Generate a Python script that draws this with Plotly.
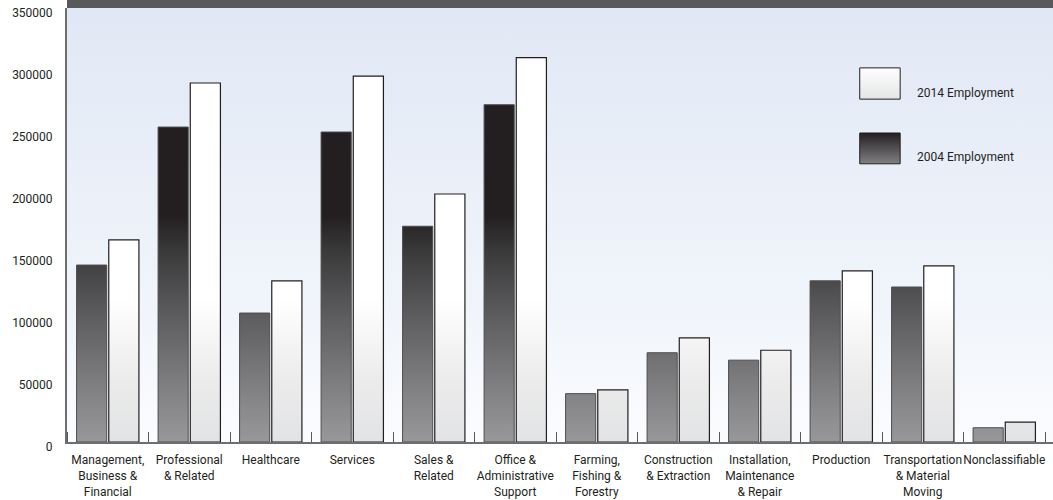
import plotly.graph_objects as go

# ---------------- data ----------------
categories = [
    "Management,<br>Business &<br>Financial",
    "Professional<br>& Related",
    "Healthcare",
    "Services",
    "Sales &<br>Related",
    "Office &<br>Administrative<br>Support",
    "Farming,<br>Fishing &<br>Forestry",
    "Construction<br>& Extraction",
    "Installation,<br>Maintenance<br>& Repair",
    "Production",
    "Transportation<br>& Material<br>Moving",
    "Nonclassifiable",
]
emp_2004 = [142700, 254000, 104000, 250000, 174000, 272000, 39000, 72000, 66000, 130000, 125000, 11500]
emp_2014 = [163000, 289500, 130000, 295000, 200000, 310000, 42000, 84000, 74000, 138000, 142000, 16000]
y_ticks = [0, 50000, 100000, 150000, 200000, 250000, 300000, 350000]
series_names = ["2004 Employment", "2014 Employment"]

# ---------------- layout constants ----------------
FONT = "Roboto"
TXT = "#231f20"
W, H = 1053, 500
ML, MR, MT, MB = 67, 0, 8, 58
n = len(categories)
slot_px = 81.5
plot_w = W - ML - MR
x_range = [-0.5, -0.5 + plot_w / slot_px]
y_range = [0, 350000]
bar_w = 0.37
gap = 0.025

def bar_paths(values, left):
    xs, ys = [], []
    for i, v in enumerate(values):
        if left:
            x0, x1 = i - gap / 2 - bar_w, i - gap / 2
        else:
            x0, x1 = i + gap / 2, i + gap / 2 + bar_w
        xs += [x0, x0, x1, x1, x0, None]
        ys += [0, v, v, 0, 0, None]
    return xs, ys

fig = go.Figure()

# plot-area background gradient
fig.add_trace(go.Scatter(
    x=[x_range[0], x_range[0], x_range[1], x_range[1], x_range[0]],
    y=[y_range[0], y_range[1], y_range[1], y_range[0], y_range[0]],
    mode="none", fill="toself",
    fillgradient=dict(type="vertical", start=y_range[0], stop=y_range[1],
                      colorscale=[[0, "#fbfcfe"], [0.3, "#f1f5fb"], [1, "#e1e8f5"]]),
    hoverinfo="skip", showlegend=False,
))

# 2004 bars
xs, ys = bar_paths(emp_2004, True)
fig.add_trace(go.Scatter(
    x=xs, y=ys, mode="lines", fill="toself", name=series_names[0],
    line=dict(color="#4d4d4f", width=1),
    fillgradient=dict(type="vertical", start=0, stop=350000,
                      colorscale=[[0, "#98989a"], [0.1, "#858587"], [0.28, "#5f5f61"],
                                  [0.44, "#3a3a3b"], [0.52, "#231f20"], [1, "#231f20"]]),
    hoverinfo="skip", showlegend=False,
))

# 2014 bars
xs, ys = bar_paths(emp_2014, False)
fig.add_trace(go.Scatter(
    x=xs, y=ys, mode="lines", fill="toself", name=series_names[1],
    line=dict(color="#231f20", width=1.2),
    fillgradient=dict(type="vertical", start=0, stop=350000,
                      colorscale=[[0, "#e2e3e4"], [0.15, "#ececed"], [0.33, "#ffffff"], [1, "#ffffff"]]),
    hoverinfo="skip", showlegend=False,
))

# ---------------- manual legend (overlay axes in plot-fraction units) ----------------
leg_x0, leg_x1 = 0.804, 0.845
leg_boxes = [
    (series_names[1], 0.790, 0.862, [[0, "#e4e5e6"], [1, "#ffffff"]], "#231f20", 0.804),
    (series_names[0], 0.641, 0.712, [[0, "#808083"], [1, "#231f20"]], "#231f20", 0.657),
]
for name, yb, yt, cs, lc, ty in leg_boxes:
    fig.add_trace(go.Scatter(
        x=[leg_x0, leg_x0, leg_x1, leg_x1, leg_x0], y=[yb, yt, yt, yb, yb],
        xaxis="x3", yaxis="y3", mode="lines", fill="toself",
        line=dict(color=lc, width=1),
        fillgradient=dict(type="vertical", start=yb, stop=yt, colorscale=cs),
        hoverinfo="skip", showlegend=False,
    ))
    fig.add_annotation(x=0.860, y=ty, xref="x3", yref="y3", text=name, showarrow=False,
                       xanchor="left", yanchor="middle",
                       font=dict(family=FONT, size=12, color=TXT))

# top dark band
fig.add_shape(type="rect", xref="paper", yref="paper", x0=0, x1=1,
              y0=1, y1=1 + MT / (H - MT - MB), fillcolor="#58595b", line_width=0, layer="above")

fig.update_layout(
    width=W, height=H,
    margin=dict(l=ML, r=MR, t=MT, b=MB, pad=0, autoexpand=False),
    paper_bgcolor="white", plot_bgcolor="white",
    font=dict(family=FONT, size=12, color=TXT),
    showlegend=False,
    xaxis=dict(
        range=x_range, showgrid=False, zeroline=False, fixedrange=True, automargin=False,
        tickmode="array", tickvals=list(range(n)), ticktext=categories, tickangle=0,
        ticks="", tickfont=dict(family=FONT, size=12, color=TXT), ticklabelstandoff=6,
        showline=True, linecolor="#6d6e71", linewidth=2,
        minor=dict(tickmode="array", tickvals=[i - 0.5 for i in range(n + 1)],
                   ticks="inside", ticklen=10, tickwidth=1.2, tickcolor="#58595b", showgrid=False),
    ),
    yaxis=dict(
        range=y_range, showgrid=False, zeroline=False, fixedrange=True, automargin=False,
        tickmode="array", tickvals=y_ticks, ticktext=[str(v) for v in y_ticks],
        ticks="inside", ticklen=24, tickwidth=1.5, tickcolor="#58595b",
        showline=True, linecolor="#6d6e71", linewidth=2,
        tickfont=dict(family=FONT, size=12, color=TXT),
        ticklabelshift=5, ticklabelstandoff=10, layer="below traces",
    ),
    xaxis3=dict(overlaying="x", range=[0, 1], visible=False, fixedrange=True),
    yaxis3=dict(overlaying="y", range=[0, 1], visible=False, fixedrange=True),
)

fig.write_html("out.html")
